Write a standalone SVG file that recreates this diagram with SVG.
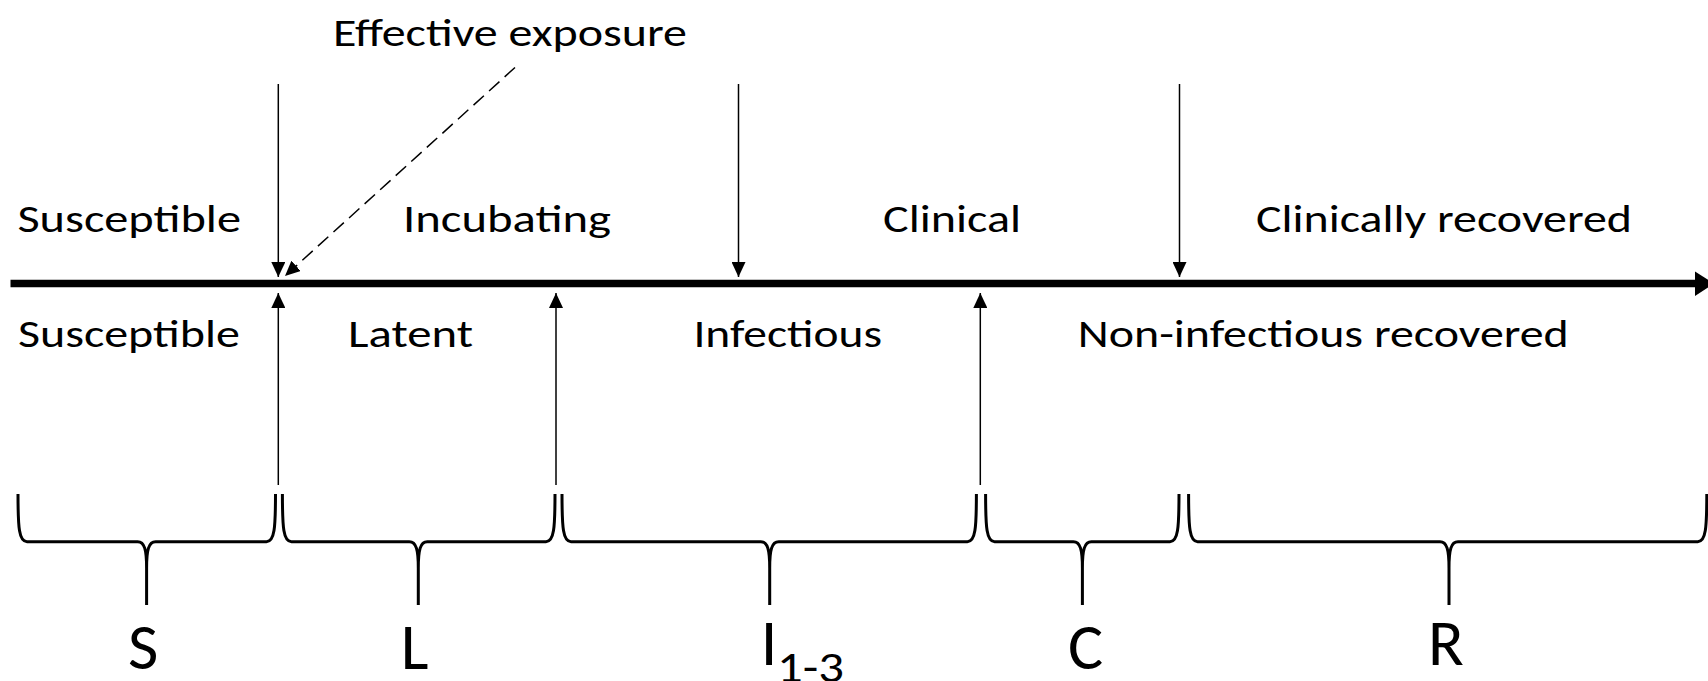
<svg xmlns="http://www.w3.org/2000/svg" width="1708" height="681" viewBox="0 0 1708 681">
  <style>
    .lbl { font-family: Calibri, Carlito, Lato, "Liberation Sans", sans-serif; font-size: 39px; fill: #000; }
    .big { font-family: Calibri, Carlito, Lato, "Liberation Sans", sans-serif; font-size: 66px; fill: #000; }
    .sub { font-family: Calibri, Carlito, Lato, "Liberation Sans", sans-serif; font-size: 44px; fill: #000; }
    .tick { stroke: #000; stroke-width: 1.5; fill: none; }
    .dash { stroke: #000; stroke-width: 1.5; fill: none; stroke-dasharray: 14 7; }
    .brace { stroke: #000; stroke-width: 3; fill: none; stroke-linejoin: round; }
  </style>
  <defs>
    <marker id="head" markerUnits="userSpaceOnUse" viewBox="0 0 15 14" refX="15" refY="7" markerWidth="15" markerHeight="14" orient="auto">
      <path d="M0,0 L15,7 L0,14 z" fill="#000"/>
    </marker>
  </defs>
  <rect width="1708" height="681" fill="#fff"/>

  <!-- time axis -->
  <g id="axis">
    <line x1="10.5" y1="283.6" x2="1697" y2="283.6" stroke="#000" stroke-width="7.5"/>
    <polygon points="1695,271.5 1714,283.6 1695,296" fill="#000"/>
  </g>

  <!-- event arrows pointing at the axis -->
  <g id="connectors">
    <line class="tick" x1="278.3" y1="84" x2="278.3" y2="277" marker-end="url(#head)"/>
    <line class="tick" x1="738.5" y1="84" x2="738.5" y2="277" marker-end="url(#head)"/>
    <line class="tick" x1="1179.5" y1="84" x2="1179.5" y2="277" marker-end="url(#head)"/>
    <line class="tick" x1="278.3" y1="485" x2="278.3" y2="293" marker-end="url(#head)"/>
    <line class="tick" x1="556" y1="485" x2="556" y2="293" marker-end="url(#head)"/>
    <line class="tick" x1="980.3" y1="485" x2="980.3" y2="293" marker-end="url(#head)"/>
    <line class="dash" x1="515" y1="67.5" x2="285" y2="276" marker-end="url(#head)"/>
  </g>

  <g id="exposure-label">
    <text class="lbl" x="333" y="45.7" textLength="354" lengthAdjust="spacingAndGlyphs">Effective exposure</text>
  </g>

  <!-- clinical states, above the axis -->
  <g id="clinical-states">
    <text class="lbl" x="17.4" y="231.7" textLength="223.6" lengthAdjust="spacingAndGlyphs">Susceptible</text>
    <text class="lbl" x="403" y="231.7" textLength="208" lengthAdjust="spacingAndGlyphs">Incubating</text>
    <text class="lbl" x="883" y="231.7" textLength="138" lengthAdjust="spacingAndGlyphs">Clinical</text>
    <text class="lbl" x="1256" y="231.7" textLength="376" lengthAdjust="spacingAndGlyphs">Clinically recovered</text>
  </g>

  <!-- infection states, below the axis -->
  <g id="infection-states">
    <text class="lbl" x="17.9" y="346.7" textLength="222" lengthAdjust="spacingAndGlyphs">Susceptible</text>
    <text class="lbl" x="348" y="346.7" textLength="125" lengthAdjust="spacingAndGlyphs">Latent</text>
    <text class="lbl" x="693.4" y="346.7" textLength="188.6" lengthAdjust="spacingAndGlyphs">Infectious</text>
    <text class="lbl" x="1077.8" y="346.7" textLength="491" lengthAdjust="spacingAndGlyphs">Non-infectious recovered</text>
  </g>

  <!-- model compartments -->
  <g id="compartment-S">
    <path class="brace" d="M18,494 C18,528 19,541.7 27,541.7 H137.6 C144.6,541.7 146.6,550 146.6,568 V605 M146.6,568 C146.6,550 148.6,541.7 155.6,541.7 H266.5 C274.5,541.7 275.5,528 275.5,494"/>
    <text class="big" x="128" y="669">S</text>
  </g>
  <g id="compartment-L">
    <path class="brace" d="M282.4,494 C282.4,528 283.4,541.7 291.4,541.7 H409.3 C416.3,541.7 418.3,550 418.3,568 V605 M418.3,568 C418.3,550 420.3,541.7 427.3,541.7 H546 C554,541.7 555,528 555,494"/>
    <text class="big" x="400.7" y="669">L</text>
  </g>
  <g id="compartment-I">
    <path class="brace" d="M562,494 C562,528 563,541.7 571,541.7 H760.7 C767.7,541.7 769.7,550 769.7,568 V605 M769.7,568 C769.7,550 771.7,541.7 778.7,541.7 H967.4 C975.4,541.7 976.4,528 976.4,494"/>
    <text class="big" x="760.7" y="665">I</text>
    <text class="sub" x="777" y="682" textLength="67" lengthAdjust="spacingAndGlyphs">1-3</text>
  </g>
  <g id="compartment-C">
    <path class="brace" d="M985.6,494 C985.6,528 986.6,541.7 994.6,541.7 H1073.4 C1080.4,541.7 1082.4,550 1082.4,568 V605 M1082.4,568 C1082.4,550 1084.4,541.7 1091.4,541.7 H1170 C1178,541.7 1179,528 1179,494"/>
    <text class="big" x="1068" y="669">C</text>
  </g>
  <g id="compartment-R">
    <path class="brace" d="M1188.6,494 C1188.6,528 1189.6,541.7 1197.6,541.7 H1440 C1447,541.7 1449,550 1449,568 V605 M1449,568 C1449,550 1451,541.7 1458,541.7 H1697.8 C1705.8,541.7 1706.8,528 1706.8,494"/>
    <text class="big" x="1428" y="665">R</text>
  </g>
</svg>
